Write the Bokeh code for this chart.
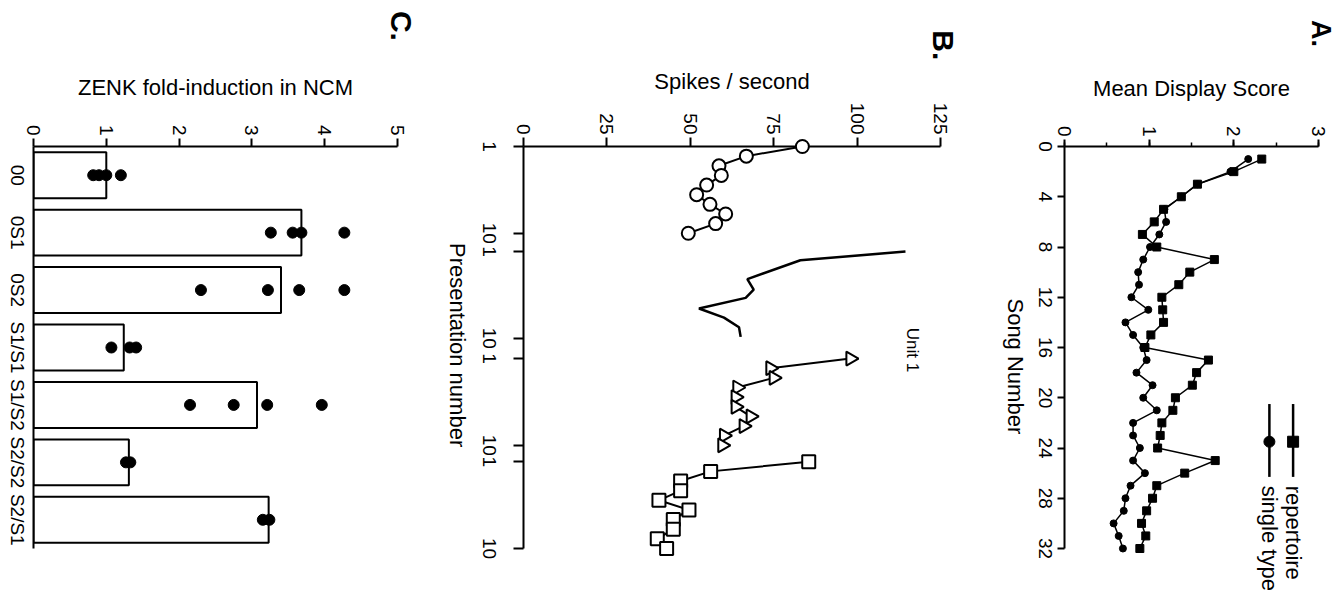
import math
from bokeh.plotting import figure
from bokeh.layouts import row
from bokeh.models import Range1d, FactorRange, SingleIntervalTicker, FixedTicker
from bokeh.core.properties import value
from bokeh.embed import file_html
from bokeh.resources import INLINE

FONT = "Liberation Sans"
HEIGHT = 598
CW = -math.pi / 2  # text / tick labels rotated 90 deg clockwise

# ---------------- Panel A : Mean display score vs song number ----------------
song_number = [1, 2, 3, 4, 5, 6, 7, 8, 9, 10, 11, 12, 13, 14, 15, 16,
               17, 18, 19, 20, 21, 22, 23, 24, 25, 26, 27, 28, 29, 30, 31, 32]
repertoire = [2.33, 2.00, 1.57, 1.38, 1.17, 1.06, 0.92, 1.09, 1.77, 1.48, 1.35, 1.15,
              1.16, 1.17, 1.02, 0.95, 1.70, 1.56, 1.51, 1.31, 1.28, 1.15, 1.13, 1.10,
              1.78, 1.42, 1.09, 1.04, 0.97, 0.91, 0.96, 0.89]
single_type = [2.17, 1.96, 1.57, 1.38, 1.18, 1.20, 1.12, 1.01, 0.93, 0.87, 0.88, 0.79,
               0.99, 0.72, 0.81, 0.93, 0.97, 0.85, 1.04, 0.93, 1.09, 0.81, 0.81, 0.89,
               0.81, 0.95, 0.78, 0.72, 0.70, 0.58, 0.64, 0.69]
song_ticks = [0, 4, 8, 12, 16, 20, 24, 28, 32]

# ---------------- Panel B : Spikes / second vs presentation number ----------------
presentation = [1, 2, 3, 4, 5, 6, 7, 8, 9, 10]
block1_circles = [83.6, 66.8, 58.6, 59.3, 54.9, 51.9, 55.9, 60.6, 57.6, 49.4]
block2_pres = [1, 1.9, 3.85, 4.95, 5.8, 6.9, 7.85, 8.85, 9.85]
block2_rate = [114.5, 83.0, 67.1, 69.0, 66.6, 52.6, 60.1, 64.6, 65.1]
block3_triangles = [98.0, 74.0, 75.0, 64.1, 63.6, 63.6, 68.1, 66.0, 60.1, 59.6]
block4_squares = [85.5, 56.1, 47.1, 47.1, 40.6, 49.6, 44.9, 44.9, 40.1, 42.9]
block_start = [0.0, 10.9, 22.0, 32.7]   # axis position of presentation 1 of each block
block_tick_labels = ["1", "10"]

# ---------------- Panel C : ZENK fold-induction ----------------
conditions = ["00", "0S1", "0S2", "S1/S1", "S1/S2", "S2/S2", "S2/S1"]
zenk_mean = [1.00, 3.68, 3.40, 1.24, 3.07, 1.31, 3.23]
dot_condition = ["00", "00", "00", "00",
                 "0S1", "0S1", "0S1", "0S1",
                 "0S2", "0S2", "0S2", "0S2",
                 "S1/S1", "S1/S1", "S1/S1",
                 "S1/S2", "S1/S2", "S1/S2", "S1/S2",
                 "S2/S2", "S2/S2",
                 "S2/S1", "S2/S1"]
dot_fold = [0.82, 0.90, 1.00, 1.20,
            3.26, 3.56, 3.68, 4.27,
            2.30, 3.22, 3.65, 4.27,
            1.07, 1.32, 1.41,
            2.15, 2.75, 3.21, 3.96,
            1.27, 1.33,
            3.15, 3.24]


def base_style(p):
    p.outline_line_color = None
    p.xgrid.visible = False
    p.ygrid.visible = False
    p.background_fill_color = "white"
    p.border_fill_color = "white"
    for ax in p.axis:
        ax.axis_line_width = 2
        ax.axis_line_color = "black"
        ax.major_tick_line_width = 2
        ax.major_tick_line_color = "black"
        ax.major_tick_in = 0
        ax.major_tick_out = 8
        ax.minor_tick_in = 0
        ax.minor_tick_out = 4
        ax.minor_tick_line_width = 1.5
        ax.minor_tick_line_color = "black"
        ax.major_label_text_font = FONT
        ax.major_label_text_font_size = "19px"
        ax.major_label_text_color = "black"
        ax.major_label_orientation = CW
        ax.major_label_standoff = 3
        ax.axis_label_text_font = FONT
        ax.axis_label_text_font_size = "22px"
        ax.axis_label_text_font_style = "normal"
        ax.axis_label_text_color = "black"


def rot_text(p, xs, ys, texts, size="22px", bold=False, align="center"):
    """Text rotated 90 deg clockwise, drawn above the frame clip."""
    p.text(x=xs, y=ys, text=texts, angle=CW, text_font=value(FONT),
           text_font_size=size, text_align=align, text_baseline="middle",
           text_font_style="bold" if bold else "normal", text_color="black",
           level="overlay")


# ================= Panel C =================
pC = figure(width=440, height=HEIGHT, x_range=Range1d(0, 5),
            y_range=FactorRange(*reversed(conditions)), x_axis_location="above",
            output_backend="svg", toolbar_location=None,
            min_border_left=33, min_border_right=43, min_border_top=141, min_border_bottom=50)
base_style(pC)
pC.hbar(y=conditions, left=0, right=zenk_mean, height=0.8, fill_color="white",
        line_color="black", line_width=2)
pC.scatter(x=dot_fold, y=dot_condition, marker="circle", size=11, fill_color="black",
           line_color="black", level="overlay")
pC.xaxis.ticker = SingleIntervalTicker(interval=1, num_minor_ticks=0)
pC.xaxis.axis_label = "ZENK fold-induction in NCM"
pC.xaxis.axis_label_standoff = 22
pC.yaxis.major_tick_out = 0
pC.yaxis.major_label_text_font_size = "0px"
pC.yaxis.major_label_text_alpha = 0
# category labels, rotated like the rest of the figure
rot_text(pC, [-0.22] * len(conditions), conditions, conditions, size="19px")
rot_text(pC, [5.05], [9.1], ["C."], size="30px", bold=True)

# ================= Panel B =================
def block_pos(block, pres):
    return [block_start[block] + v - 1 for v in pres]

b_ticks = []
b_tick_text = []
for s in block_start:
    b_ticks += [s, s + 9]
    b_tick_text += block_tick_labels

pB = figure(width=540, height=HEIGHT, x_range=Range1d(0, 125),
            y_range=Range1d(block_start[-1] + 9, 0), x_axis_location="above",
            output_backend="svg", toolbar_location=None,
            min_border_left=83, min_border_right=40, min_border_top=146, min_border_bottom=43)
base_style(pB)
pB.xaxis.ticker = SingleIntervalTicker(interval=25, num_minor_ticks=0)
pB.xaxis.major_tick_out = 9
pB.xaxis.axis_label = "Spikes / second"
pB.xaxis.axis_label_standoff = 6
pB.yaxis.ticker = FixedTicker(ticks=b_ticks, minor_ticks=[])
pB.yaxis.major_label_overrides = {t: "" for t in b_ticks}
pB.yaxis.major_tick_out = 10
rot_text(pB, [-10.3] * len(b_ticks), b_ticks, b_tick_text, size="19px")

y1 = block_pos(0, presentation)
pB.line(block1_circles, y1, line_width=2, color="black", level="overlay")
pB.scatter(block1_circles, y1, marker="circle", size=13, fill_color="white",
           line_color="black", line_width=2, level="overlay")
pB.line(block2_rate, block_pos(1, block2_pres), line_width=2.5, color="black", level="overlay")
y3 = block_pos(2, presentation)
pB.line(block3_triangles, y3, line_width=2, color="black", level="overlay")
pB.scatter(block3_triangles, y3, marker="triangle", angle=CW, size=14, fill_color="white",
           line_color="black", line_width=2, level="overlay")
y4 = block_pos(3, presentation)
pB.line(block4_squares, y4, line_width=2, color="black", level="overlay")
pB.scatter(block4_squares, y4, marker="square", size=13, fill_color="white",
           line_color="black", line_width=2, level="overlay")

rot_text(pB, [-19.7], [20.6], ["Presentation number"], size="22px")
rot_text(pB, [116.6], [21.1], ["Unit 1"], size="17px")
rot_text(pB, [125.8], [-10.5], ["B."], size="30px", bold=True)

# ================= Panel A =================
pA = figure(width=359, height=HEIGHT, x_range=Range1d(0, 3), y_range=Range1d(32, 0),
            x_axis_location="above", output_backend="svg", toolbar_location=None,
            min_border_left=84, min_border_right=21, min_border_top=146, min_border_bottom=43)
base_style(pA)
pA.xaxis.ticker = SingleIntervalTicker(interval=1, num_minor_ticks=2)
pA.xaxis.major_tick_out = 7
pA.xaxis.axis_label = "Mean Display Score"
pA.xaxis.axis_label_standoff = 22
pA.yaxis.ticker = FixedTicker(ticks=song_ticks, minor_ticks=[])
pA.yaxis.major_label_overrides = {t: "" for t in song_ticks}
pA.yaxis.major_tick_out = 7
rot_text(pA, [-0.23] * len(song_ticks), song_ticks, [str(t) for t in song_ticks], size="19px")

pA.line(repertoire, song_number, line_width=1.5, color="black", level="overlay")
pA.scatter(repertoire, song_number, marker="square", size=8, color="black", level="overlay")
pA.line(single_type, song_number, line_width=1.5, color="black", level="overlay")
pA.scatter(single_type, song_number, marker="circle", size=7, color="black", level="overlay")

# legend (drawn rotated like the rest of the figure)
LEG = dict(rep_x=2.70, single_x=2.42, y_top=20.5, y_bot=26.3, y_mark=23.5, y_text=27.0)
pA.line([LEG["rep_x"], LEG["rep_x"]], [LEG["y_top"], LEG["y_bot"]], line_width=2.5,
        color="black", level="overlay")
pA.scatter([LEG["rep_x"]], [LEG["y_mark"]], marker="square", size=11, color="black", level="overlay")
pA.line([LEG["single_x"], LEG["single_x"]], [LEG["y_top"], LEG["y_bot"]], line_width=2.5,
        color="black", level="overlay")
pA.scatter([LEG["single_x"]], [LEG["y_mark"]], marker="circle", size=11, color="black", level="overlay")
rot_text(pA, [LEG["rep_x"], LEG["single_x"]], [LEG["y_text"], LEG["y_text"]],
         ["repertoire", "single type"], align="left")

rot_text(pA, [-0.58], [17.5], ["Song Number"])
rot_text(pA, [3.03], [-9.0], ["A."], size="27px", bold=True)

layout = row(pC, pB, pA)
open("out.html", "w").write(file_html(layout, INLINE))
